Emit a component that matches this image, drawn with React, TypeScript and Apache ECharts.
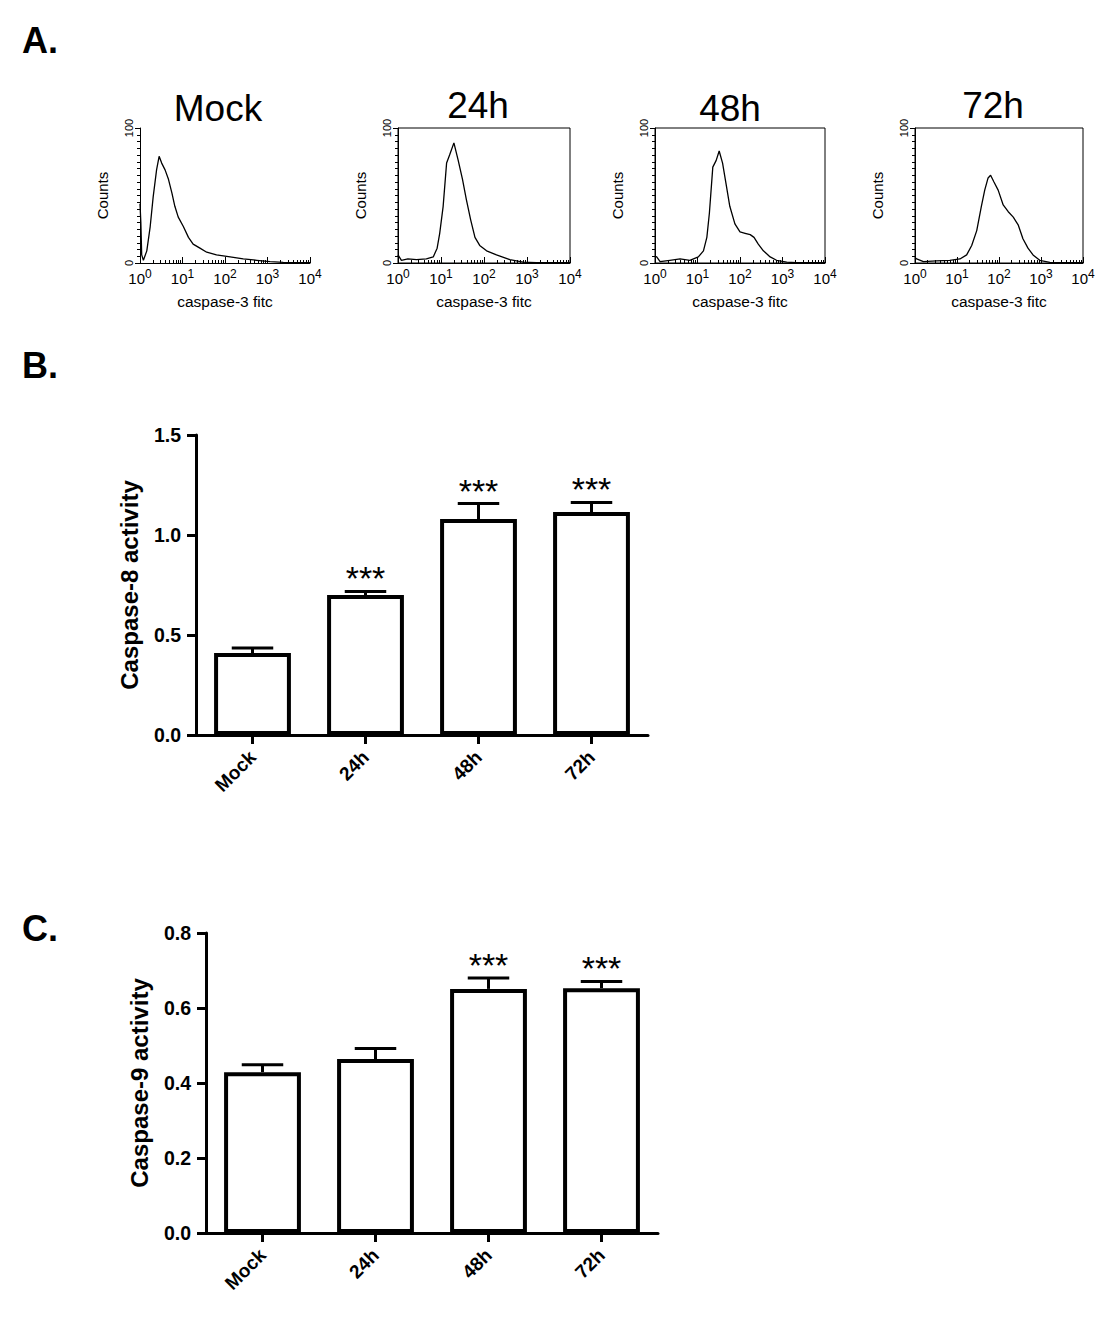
import React, { useEffect, useRef } from "react";
import * as echarts from "echarts";

// ---------- Panel A: flow cytometry histograms (x in log10 of caspase-3 FITC) ----------
const histTitles = ["Mock", "24h", "48h", "72h"];
const decadeExponents = [0, 1, 2, 3, 4];

const mockLogFitc = [0, 0.02, 0.04, 0.08, 0.16, 0.24, 0.31, 0.39, 0.45, 0.51, 0.59, 0.67, 0.75, 0.82, 0.9, 1.02, 1.14, 1.25, 1.41, 1.57, 1.8, 2.12, 2.43, 2.75, 3.06, 3.37, 3.9, 4.0];
const mockCounts = [44, 30, 6, 2, 9, 27, 49, 69, 79, 74, 69, 62, 52, 42, 34, 27, 19, 14, 11, 8, 6, 4.5, 3, 2, 1, 0.5, 0.3, 0.3];

const h24LogFitc = [0, 0.04, 0.08, 0.23, 0.43, 0.66, 0.82, 0.91, 0.97, 1.05, 1.13, 1.2, 1.3, 1.4, 1.5, 1.59, 1.69, 1.79, 1.9, 2.06, 2.29, 2.6, 2.91, 3.22, 4.0];
const h24Counts = [6, 4, 2, 3, 2.5, 3, 4.5, 11, 22, 42, 74, 80, 89, 76, 62, 47, 32, 19, 13, 9, 6, 2.5, 0.7, 0.2, 0.2];

const h48LogFitc = [0, 0.04, 0.12, 0.35, 0.59, 0.82, 1.02, 1.14, 1.22, 1.28, 1.36, 1.44, 1.51, 1.59, 1.67, 1.76, 1.88, 2.0, 2.12, 2.24, 2.33, 2.43, 2.55, 2.71, 2.86, 3.1, 3.33, 4.0];
const h48Counts = [5, 4.5, 1, 2, 3, 2, 4.5, 9, 19, 37, 71, 76, 83, 74, 59, 42, 29, 23, 22, 21, 19, 14, 9, 4.5, 2, 0.7, 0.2, 0.2];

const h72LogFitc = [0, 0.04, 0.2, 0.51, 0.83, 1.07, 1.23, 1.35, 1.47, 1.58, 1.66, 1.74, 1.8, 1.88, 1.98, 2.1, 2.22, 2.34, 2.46, 2.57, 2.69, 2.81, 2.97, 3.21, 4.0];
const h72Counts = [4, 3, 1, 1.5, 2, 3, 6, 13, 24, 42, 54, 63, 65, 60, 54, 43, 38, 34, 28, 18, 11, 6, 2, 0.5, 0.2];

// ---------- Panels B & C: bar charts ----------
const categories = ["Mock", "24h", "48h", "72h"];
const casp8Mean = [0.41, 0.7, 1.08, 1.115];
const casp8Err = [0.025, 0.018, 0.077, 0.048];
const casp8Sig = ["", "***", "***", "***"];
const casp9Mean = [0.429, 0.464, 0.651, 0.653];
const casp9Err = [0.02, 0.028, 0.029, 0.018];
const casp9Sig = ["", "", "***", "***"];

const FONT = "'Liberation Sans', Arial, Helvetica, sans-serif";

export default function App() {
  const ref = useRef<HTMLDivElement>(null);

  useEffect(() => {
    if (!ref.current) return;
    const chart = echarts.init(ref.current, undefined, { renderer: "svg" });

    const histX = [mockLogFitc, h24LogFitc, h48LogFitc, h72LogFitc];
    const histY = [mockCounts, h24Counts, h48Counts, h72Counts];
    const histGrids = [
      { left: 140, width: 170, box: false, cx: 218, ty: 108 },
      { left: 398, width: 172, box: true, cx: 478, ty: 105 },
      { left: 655, width: 170, box: true, cx: 730, ty: 108 },
      { left: 915, width: 168, box: true, cx: 993, ty: 105 },
    ];

    // minor tick positions on the log scale (2..9 within each decade)
    const minorPos: number[] = [];
    for (let d = 0; d < 4; d++) for (let k = 2; k <= 9; k++) minorPos.push(d + Math.log10(k));

    const grids: any[] = [];
    const xAxes: any[] = [];
    const yAxes: any[] = [];
    const series: any[] = [];
    const graphics: any[] = [];

    histGrids.forEach((g, i) => {
      grids.push({
        left: g.left, top: 128, width: g.width, height: 135,
        show: g.box, borderColor: "#000", borderWidth: 1, backgroundColor: "transparent",
      });
      xAxes.push({
        gridIndex: i, type: "value", min: 0, max: 4, interval: 1, position: "bottom",
        axisLine: { show: true, onZero: false, lineStyle: { color: "#000", width: 1 } },
        axisTick: { show: true, inside: true, length: 6, lineStyle: { color: "#000", width: 1 } },
        splitLine: { show: false },
        axisLabel: {
          margin: 5,
          formatter: (v: number) => `{b|10}{s|${decadeExponents[Math.round(v)]}}`,
          rich: {
            b: { fontSize: 15, fontFamily: FONT, color: "#000", lineHeight: 18, verticalAlign: "bottom" },
            s: { fontSize: 12, fontFamily: FONT, color: "#000", lineHeight: 12, verticalAlign: "top" },
          },
        },
        name: "caspase-3 fitc", nameLocation: "middle", nameGap: 30,
        nameTextStyle: { fontSize: 15.5, fontFamily: FONT, color: "#000" },
      });
      xAxes.push({
        gridIndex: i, type: "value", min: 0, max: 4, position: "bottom",
        axisLine: { show: false },
        axisLabel: { show: false },
        splitLine: { show: false },
        axisTick: { show: true, inside: true, length: 3, customValues: minorPos, lineStyle: { color: "#000", width: 1 } },
      });
      yAxes.push({
        gridIndex: i, type: "value", min: 0, max: 100, interval: 100,
        axisLine: { show: true, onZero: false, lineStyle: { color: "#000", width: 1 } },
        axisTick: { show: true, length: 5, lineStyle: { color: "#000", width: 1 } },
        minorTick: { show: true, splitNumber: 20, length: 3, lineStyle: { color: "#000", width: 1 } },
        splitLine: { show: false },
        minorSplitLine: { show: false },
        axisLabel: { rotate: 90, margin: 6, fontSize: 11, fontFamily: FONT, color: "#000" },
        name: "Counts", nameLocation: "middle", nameGap: 30, nameRotate: 90,
        nameTextStyle: { fontSize: 15, fontFamily: FONT, color: "#000" },
      });
      series.push({
        type: "line", xAxisIndex: i * 2, yAxisIndex: i,
        data: histX[i].map((x, j) => [x, histY[i][j]]),
        symbol: "none", lineStyle: { color: "#000", width: 1.3 }, clip: true,
      });
      graphics.push({
        type: "text", x: g.cx, y: g.ty,
        style: { text: histTitles[i], fontSize: 37, fontFamily: FONT, fill: "#000", textAlign: "center", textVerticalAlign: "middle" },
      });
    });

    const barPanels = [
      { grid: { left: 196, top: 435, width: 452, height: 300 }, max: 1.5, interval: 0.5, mean: casp8Mean, err: casp8Err, sig: casp8Sig, name: "Caspase-8 activity" },
      { grid: { left: 206, top: 933, width: 452, height: 300 }, max: 0.8, interval: 0.2, mean: casp9Mean, err: casp9Err, sig: casp9Sig, name: "Caspase-9 activity" },
    ];

    barPanels.forEach((p) => {
      const gi = grids.length;
      grids.push({ ...p.grid, show: false });
      const xi = xAxes.length;
      const yi = yAxes.length;
      xAxes.push({
        gridIndex: gi, type: "category", data: categories,
        axisLine: { show: true, lineStyle: { color: "#000", width: 3 } },
        axisTick: { show: true, alignWithLabel: true, length: 9, lineStyle: { color: "#000", width: 3 } },
        axisLabel: { rotate: 45, margin: 19, fontSize: 19, fontWeight: "bold", fontFamily: FONT, color: "#000" },
        splitLine: { show: false },
      });
      yAxes.push({
        gridIndex: gi, type: "value", min: 0, max: p.max, interval: p.interval,
        axisLine: { show: true, lineStyle: { color: "#000", width: 3 } },
        axisTick: { show: true, length: 9, lineStyle: { color: "#000", width: 3 } },
        axisLabel: { margin: 15, fontSize: 19.5, fontWeight: "bold", fontFamily: FONT, color: "#000", formatter: (v: number) => v.toFixed(1) },
        splitLine: { show: false },
        name: p.name, nameLocation: "middle", nameGap: 55, nameRotate: 90,
        nameTextStyle: { fontSize: 24, fontWeight: "bold", fontFamily: FONT, color: "#000" },
      });
      series.push({
        type: "bar", xAxisIndex: xi, yAxisIndex: yi,
        data: p.mean, barCategoryGap: "32%",
        itemStyle: { color: "#fff", borderColor: "#000", borderWidth: 4 },
      });
      series.push({
        type: "custom", xAxisIndex: xi, yAxisIndex: yi,
        data: p.mean.map((m, j) => [j, m, p.err[j]]),
        encode: { x: 0, y: 1 },
        z: 5,
        renderItem: (params: any, api: any) => {
          const j = params.dataIndex;
          const m = api.value(1);
          const e = api.value(2);
          const base = api.coord([j, m]);
          const top = api.coord([j, m + e]);
          const bw = api.size([1, 0])[0] * 0.68;
          const cap = bw * 0.54;
          const children: any[] = [
            { type: "line", shape: { x1: base[0], y1: base[1], x2: top[0], y2: top[1] }, style: { stroke: "#000", lineWidth: 3 } },
            { type: "line", shape: { x1: top[0] - cap / 2, y1: top[1], x2: top[0] + cap / 2, y2: top[1] }, style: { stroke: "#000", lineWidth: 3 } },
          ];
          if (p.sig[j]) {
            children.push({
              type: "text", x: top[0], y: top[1] + 4,
              style: { text: p.sig[j], fontSize: 34, fontFamily: FONT, fill: "#000", textAlign: "center", textVerticalAlign: "bottom" },
            });
          }
          return { type: "group", children };
        },
      });
    });

    graphics.push(
      { type: "text", x: 22, y: 40, style: { text: "A.", fontSize: 36, fontWeight: "bold", fontFamily: FONT, fill: "#000", textVerticalAlign: "middle" } },
      { type: "text", x: 22, y: 365, style: { text: "B.", fontSize: 36, fontWeight: "bold", fontFamily: FONT, fill: "#000", textVerticalAlign: "middle" } },
      { type: "text", x: 22, y: 928, style: { text: "C.", fontSize: 36, fontWeight: "bold", fontFamily: FONT, fill: "#000", textVerticalAlign: "middle" } },
    );

    chart.setOption({
      animation: false,
      backgroundColor: "#fff",
      textStyle: { fontFamily: FONT },
      grid: grids,
      xAxis: xAxes,
      yAxis: yAxes,
      series,
      graphic: graphics,
    });

    return () => chart.dispose();
  }, []);

  return <div ref={ref} style={{ position: "absolute", left: 0, top: 0, width: 1103, height: 1323 }} />;
}
